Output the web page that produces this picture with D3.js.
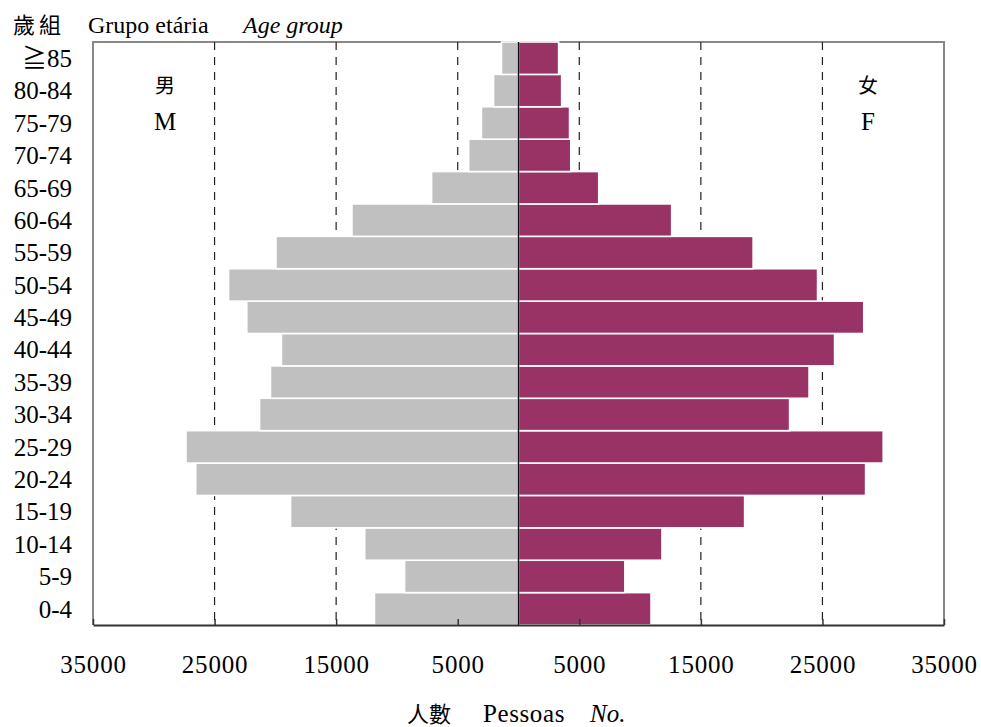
<!DOCTYPE html>
<html><head><meta charset="utf-8">
<script src="https://cdn.jsdelivr.net/npm/d3@7"></script>
<style>
body{margin:0;background:#fff;}
svg text{font-family:"Liberation Serif",Tinos,"Times New Roman",Times,"DejaVu Serif",serif,"Noto Sans CJK TC";fill:#000;}
</style></head><body>
<svg id="c" width="981" height="727"></svg>
<script>
const ageGroups = ["0-4","5-9","10-14","15-19","20-24","25-29","30-34","35-39","40-44","45-49","50-54","55-59","60-64","65-69","70-74","75-79","80-84","≧85"];
const male   = [11850, 9370, 12650, 18750, 26550, 27350, 21300, 20400, 19500, 22350, 23850, 19950, 13700, 7150, 4100, 3050, 2050, 1400];
const female = [10900, 8750, 11800, 18600, 28550, 30000, 22300, 23900, 26000, 28400, 24600, 19300, 12600, 6600, 4300, 4200, 3550, 3300];
const tickVals = [-35000,-25000,-15000,-5000,5000,15000,25000,35000];
const gridVals = [-25000,-15000,-5000,5000,15000,25000];

const svg = d3.select("#c");
const L=93, R=944, T=42, B=625;
const x = d3.scaleLinear().domain([-35000,35000]).range([L,R]);
const y = d3.scaleBand().domain(ageGroups.slice().reverse()).range([T,B]).padding(0);
const fs = 25;

// frame (top, left, right)
svg.append("path").attr("d",`M${L},${B}V${T}H${R}V${B}`).attr("fill","none").attr("stroke","#888").attr("stroke-width",2);

// dashed grid
svg.selectAll(".grid").data(gridVals).enter().append("line")
  .attr("x1",d=>x(d)).attr("x2",d=>x(d)).attr("y1",T).attr("y2",B)
  .attr("stroke","#222").attr("stroke-width",1.2).attr("stroke-dasharray","8,7");

// bars
const rows = ageGroups.map((a,i)=>({a,m:male[i],f:female[i]}));
svg.selectAll(".m").data(rows).enter().append("rect")
  .attr("x",d=>x(-d.m)).attr("width",d=>x(0)-x(-d.m)).attr("y",d=>y(d.a)).attr("height",y.bandwidth())
  .attr("fill","#c0c0c0").attr("stroke","#fff").attr("stroke-width",1.6);
svg.selectAll(".f").data(rows).enter().append("rect")
  .attr("x",x(0)).attr("width",d=>x(d.f)-x(0)).attr("y",d=>y(d.a)).attr("height",y.bandwidth())
  .attr("fill","#993366").attr("stroke","#fff").attr("stroke-width",1.6);

// center line
svg.append("line").attr("x1",x(0)).attr("x2",x(0)).attr("y1",T).attr("y2",B).attr("stroke","#111").attr("stroke-width",1.5);

// x axis
const ax = d3.axisBottom(x).tickValues(tickVals).tickFormat(d=>Math.abs(d)).tickSizeInner(-6).tickSizeOuter(0).tickPadding(30);
const g = svg.append("g").attr("transform",`translate(0,${B})`).call(ax);
g.attr("font-family",null).attr("font-size",null);
g.select(".domain").attr("stroke","#333").attr("stroke-width",2);
g.selectAll(".tick line").attr("stroke","#333").attr("stroke-width",1.5);
g.selectAll(".tick text").style("font-size",fs+"px").style("letter-spacing","0.8px");

// y labels
svg.selectAll(".yl").data(ageGroups).enter().append("text")
  .attr("x",72).attr("y",d=>y(d)+y.bandwidth()/2).attr("dy","0.35em").attr("text-anchor","end")
  .style("font-size",fs+"px").text(d=>d);

// header
const h = svg.append("text").attr("y",33).style("font-size","24px");
h.append("tspan").attr("x",13).style("font-size","22px").style("letter-spacing","4px").text("歲組");
h.append("tspan").attr("x",88).text("Grupo etária");
h.append("tspan").attr("x",243).style("font-style","italic").text("Age group");

// sex labels
svg.append("text").attr("x",165).attr("y",93).attr("text-anchor","middle").style("font-size","20px").text("男");
svg.append("text").attr("x",165).attr("y",130).attr("text-anchor","middle").style("font-size",fs+"px").text("M");
svg.append("text").attr("x",868).attr("y",93).attr("text-anchor","middle").style("font-size","20px").text("女");
svg.append("text").attr("x",868).attr("y",130).attr("text-anchor","middle").style("font-size",fs+"px").text("F");

// x title
const t = svg.append("text").attr("y",722).style("font-size",fs+"px");
t.append("tspan").attr("x",407).style("font-size","22px").text("人數");
t.append("tspan").attr("x",483).style("letter-spacing","0.6px").text("Pessoas");
t.append("tspan").attr("x",590).style("font-style","italic").text("No.");
</script></body></html>
